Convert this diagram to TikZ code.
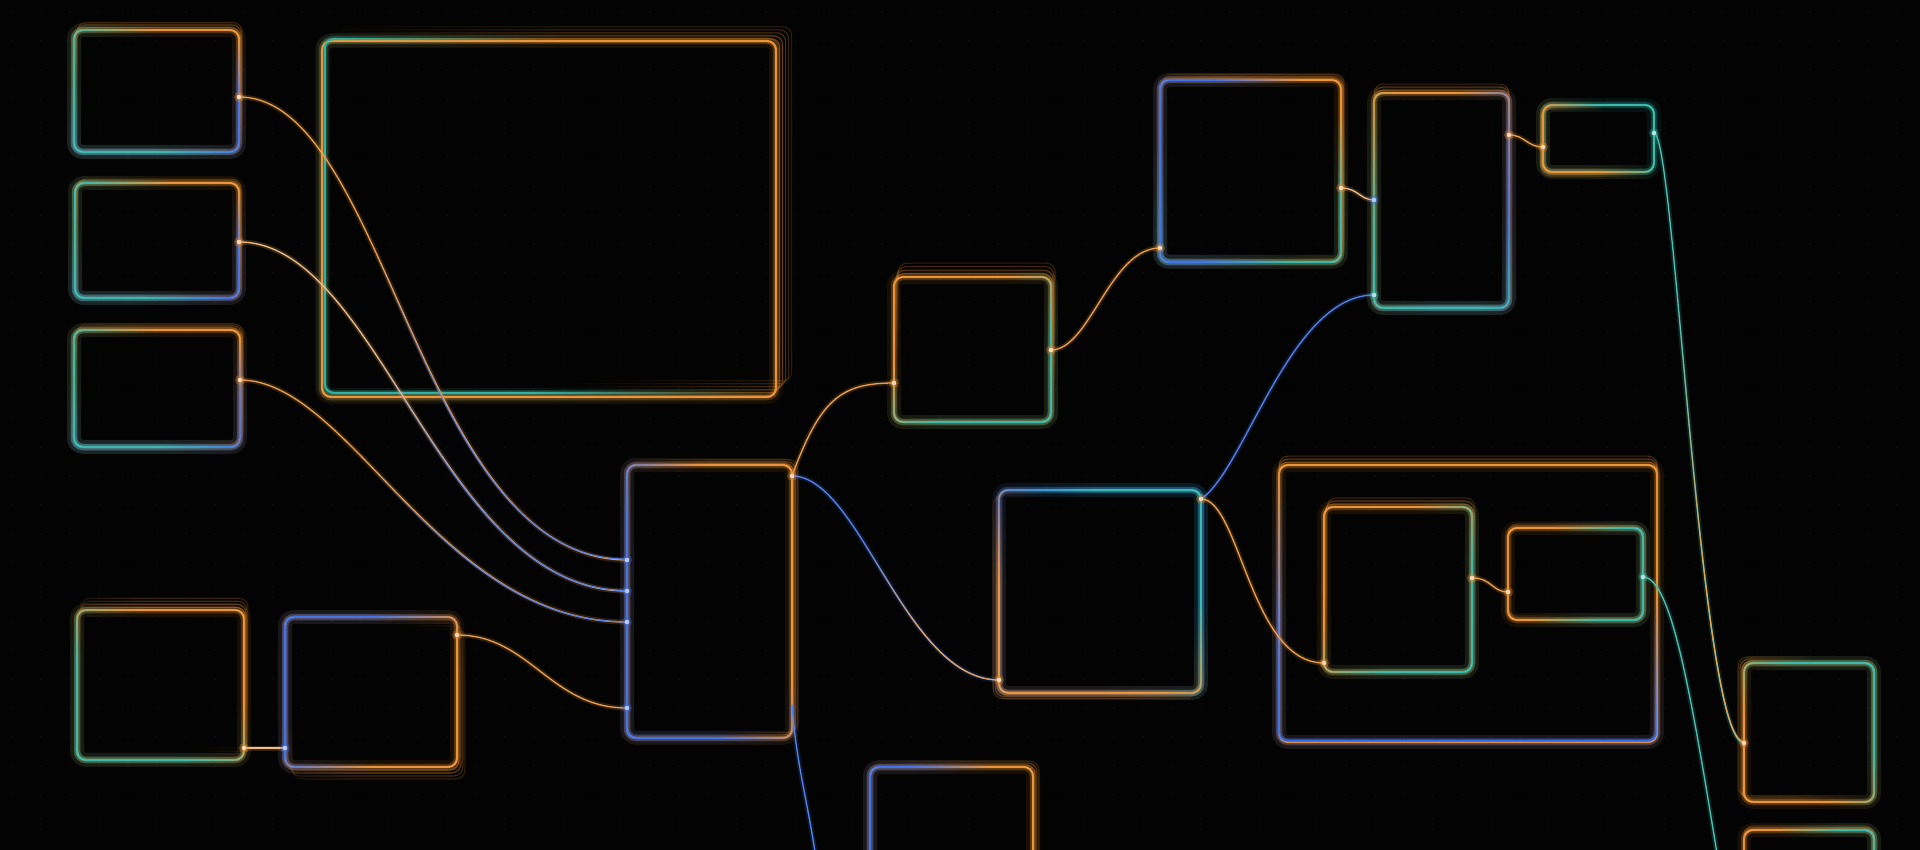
\documentclass[tikz,border=0pt]{standalone}
\usetikzlibrary{fadings,fit}
\definecolor{orc}{RGB}{232,140,44}
\definecolor{tec}{RGB}{44,180,164}
\definecolor{blc}{RGB}{52,104,232}
\definecolor{bg}{RGB}{3,3,3}
\definecolor{dotc}{RGB}{15,15,15}
\pgfdeclarehorizontalshading{fadeSsh}{100bp}{color(0bp)=(black); color(38bp)=(black); color(62bp)=(white); color(100bp)=(white)}
\pgfdeclarefading{fadeB}{\pgfuseshading{fadeSsh}}
\pgfdeclarehorizontalshading{fadeEsh}{100bp}{color(0bp)=(black); color(82bp)=(black); color(94bp)=(white); color(100bp)=(white)}
\pgfdeclarefading{fadeE}{\pgfuseshading{fadeEsh}}
\newcommand{\boxecho}[7]{%
  \foreach \k [evaluate=\k as \op using #7-0.07*\k] in {1,...,#6}{%
    \draw[#4, line width=1.1pt, rounded corners=9pt, opacity=\op, path fading=fadeB, fading angle=#5]
      ([shift={(\k*#2,\k*#3)}]#1.south west) rectangle ([shift={(\k*#2,\k*#3)}]#1.north east);
  }}
\newcommand{\pdot}[2]{\fill[#2, opacity=0.35] (#1) circle (5pt); \fill[#2!35!white] (#1) circle (2.3pt);}
\begin{document}
\begin{tikzpicture}[x=1pt,y=-1pt,
  gb/.style={draw=#1, line width=2.2pt, rounded corners=9pt, inner sep=0pt, outer sep=0pt,
    preaction={draw=#1, line width=14pt, opacity=0.09},
    preaction={draw=#1, line width=6.5pt, opacity=0.28}},
  ov/.style 2 args={
    preaction={draw=#1, line width=14pt, opacity=0.09, path fading=fadeB, fading angle=#2},
    preaction={draw=#1, line width=6.5pt, opacity=0.28, path fading=fadeB, fading angle=#2},
    postaction={draw=#1, line width=2.2pt, path fading=fadeB, fading angle=#2}},
  ove/.style 2 args={
    preaction={draw=#1, line width=6.5pt, opacity=0.28, path fading=fadeE, fading angle=#2},
    postaction={draw=#1, line width=2.2pt, path fading=fadeE, fading angle=#2}},
  hl/.style={postaction={draw=white, line width=0.6pt, opacity=0.22}},
  conn/.style={draw=#1!82!white, line width=1.3pt, preaction={draw=#1, line width=5pt, opacity=0.2}},
  connf/.style 2 args={postaction={draw=#1!82!white, line width=1.3pt, path fading=fadeB, fading angle=#2}}]
\useasboundingbox (0,0) rectangle (1920,850);
\fill[bg] (0,0) rectangle (1920,850);
\clip (0,0) rectangle (1920,850);
\foreach \i in {0,...,66}{\foreach \j in {0,...,29}{\fill[dotc] (\i*29+12,\j*29+12) circle (0.9pt);}}
% boxes
\node[gb=orc, ove={blc}{-90}, ove={orc}{0}, ov={tec}{205}, hl, fit={(322,41) (776,397)}] (B) {};
\node[gb=orc, ov={blc}{-70}, ov={tec}{210}, hl, fit={(74,30) (239,152)}] (A1) {};
\node[gb=orc, ov={blc}{-70}, ov={tec}{200}, hl, fit={(75,183) (239,298)}] (A2) {};
\node[gb=orc, ov={blc}{-70}, ov={tec}{210}, hl, fit={(74,330) (240,447)}] (A3) {};
\node[gb=orc, ov={tec}{225}, hl, fit={(77,610) (244,760)}] (C) {};
\node[gb=orc, ov={blc}{150}, hl, fit={(285,617) (457,767)}] (D) {};
\node[gb=orc, ov={blc}{215}, hl, fit={(627,465) (792,738)}] (E) {};
\node[gb=orc, ov={tec}{-50}, hl, fit={(894,277) (1051,422)}] (F) {};
\node[gb=blc, ov={tec}{30}, ov={orc}{235}, hl, fit={(999,490) (1201,693)}] (G) {};
\node[gb=orc, ov={blc}{180}, hl, fit={(870,767) (1033,900)}] (H) {};
\node[gb=orc, ov={tec}{-80}, ov={blc}{175}, hl, fit={(1160,80) (1341,262)}] (I) {};
\node[gb=orc, ov={blc}{-40}, ov={tec}{235}, hl, fit={(1374,93) (1509,308)}] (J) {};
\node[gb=tec, ov={orc}{210}, hl, fit={(1543,105) (1654,172)}] (K) {};
\node[gb=orc, ov={blc}{245}, hl, fit={(1279,465) (1657,742)}] (L) {};
\node[gb=orc, ov={tec}{-40}, hl, fit={(1324,507) (1472,672)}] (M) {};
\node[gb=orc, ov={tec}{-10}, hl, fit={(1508,528) (1643,620)}] (N) {};
\node[gb=orc, ov={tec}{45}, hl, fit={(1744,663) (1874,802)}] (O) {};
\node[gb=orc, ov={tec}{0}, hl, fit={(1744,830) (1874,920)}] (P) {};
% echoes
\boxecho{B}{3}{-3}{orc}{30}{6}{0.62}
\boxecho{A1}{1}{-2.5}{orc}{60}{3}{0.45}
\boxecho{A2}{1}{-2}{orc}{60}{2}{0.45}
\boxecho{A3}{1}{-2}{orc}{45}{3}{0.45}
\boxecho{C}{1}{-3}{orc}{45}{4}{0.5}
\boxecho{D}{2}{3}{orc}{-45}{4}{0.5}
\boxecho{E}{2}{-2}{orc}{30}{3}{0.45}
\boxecho{F}{1}{-3.5}{orc}{80}{4}{0.5}
\boxecho{G}{-2}{2}{orc}{225}{3}{0.45}
\boxecho{H}{2}{-2}{orc}{30}{3}{0.45}
\boxecho{I}{1}{-2}{orc}{45}{3}{0.45}
\boxecho{J}{0}{-3}{orc}{90}{3}{0.45}
\boxecho{K}{-1}{2}{orc}{200}{2}{0.45}
\boxecho{L}{0}{-3}{orc}{100}{3}{0.5}
\boxecho{M}{1}{-3}{orc}{120}{3}{0.45}
\boxecho{N}{0}{-2}{orc}{150}{2}{0.4}
\boxecho{O}{-2}{-2}{orc}{200}{3}{0.45}
\boxecho{P}{0}{-2}{orc}{120}{2}{0.4}
% ports
\coordinate (a1o) at (A1.east |- 0,97);
\coordinate (a2o) at (A2.east |- 0,242);
\coordinate (a3o) at (A3.east |- 0,380);
\coordinate (e1) at (E.west |- 0,560);
\coordinate (e2) at (E.west |- 0,591);
\coordinate (e3) at (E.west |- 0,622);
\coordinate (e4) at (E.west |- 0,708);
\coordinate (do) at (D.east |- 0,635);
\coordinate (co) at (C.east |- 0,748);
\coordinate (di) at (D.west |- 0,748);
\coordinate (eo) at (E.east |- 0,476);
\coordinate (eb) at (E.east |- 0,705);
\coordinate (edown) at (818,872);
\coordinate (fi) at (F.west |- 0,383);
\coordinate (fo) at (F.east |- 0,350);
\coordinate (ii) at (I.west |- 0,248);
\coordinate (io) at (I.east |- 0,188);
\coordinate (ji1) at (J.west |- 0,200);
\coordinate (ji2) at (J.west |- 0,295);
\coordinate (jo) at (J.east |- 0,135);
\coordinate (ki) at (K.west |- 0,147);
\coordinate (ko) at (K.east |- 0,133);
\coordinate (gi) at (G.west |- 0,680);
\coordinate (go) at (G.east |- 0,499);
\coordinate (mi) at (M.west |- 0,663);
\coordinate (mo) at (M.east |- 0,578);
\coordinate (ni) at (N.west |- 0,592);
\coordinate (no) at (N.east |- 0,577);
\coordinate (oi) at (O.west |- 0,743);
\coordinate (ndown) at (1720,872);
% connectors
\draw[conn=orc, connf={blc}{-60}] (a1o) .. controls (387,97) and (418,560) .. (e1);
\draw[conn=orc!70!white, connf={blc}{-60}] (a2o) .. controls (380,242) and (440,591) .. (e2);
\draw[conn=orc, connf={blc}{-40}] (a3o) .. controls (350,380) and (440,622) .. (e3);
\draw[conn=orc] (do) .. controls (530,635) and (550,708) .. (e4);
\draw[conn=orc!70!white] (co) -- (di);
\draw[conn=orc] (eo) .. controls (820,400) and (840,383) .. (fi);
\draw[conn=blc, connf={orc}{-45}] (eo) .. controls (860,476) and (905,680) .. (gi);
\draw[conn=blc] (eb) .. controls (797,770) and (808,800) .. (edown);
\draw[conn=orc] (fo) .. controls (1090,350) and (1110,248) .. (ii);
\draw[conn=orc!70!white] (io) .. controls (1358,188) and (1360,200) .. (ji1);
\draw[conn=blc] (go) .. controls (1245,470) and (1290,295) .. (ji2);
\draw[conn=orc] (go) .. controls (1240,499) and (1250,663) .. (mi);
\draw[conn=orc] (jo) .. controls (1525,135) and (1527,147) .. (ki);
\draw[conn=tec, connf={orc}{-90}] (ko) .. controls (1675,133) and (1700,743) .. (oi);
\draw[conn=orc] (mo) .. controls (1492,578) and (1492,592) .. (ni);
\draw[conn=tec] (no) .. controls (1672,577) and (1692,700) .. (ndown);
% port dots
\pdot{a1o}{orc}\pdot{a2o}{orc}\pdot{a3o}{orc}
\pdot{e1}{blc}\pdot{e2}{blc}\pdot{e3}{blc}\pdot{e4}{blc}
\pdot{do}{orc}\pdot{co}{orc}\pdot{di}{blc}
\pdot{eo}{orc}\pdot{fi}{orc}\pdot{fo}{orc}\pdot{ii}{orc}
\pdot{io}{orc}\pdot{ji1}{blc}\pdot{ji2}{tec}\pdot{jo}{orc}\pdot{ki}{orc}\pdot{ko}{tec}
\pdot{gi}{orc}\pdot{go}{orc}\pdot{mi}{orc}\pdot{mo}{orc}\pdot{ni}{orc}\pdot{no}{tec}\pdot{oi}{orc}
\end{tikzpicture}
\end{document}
